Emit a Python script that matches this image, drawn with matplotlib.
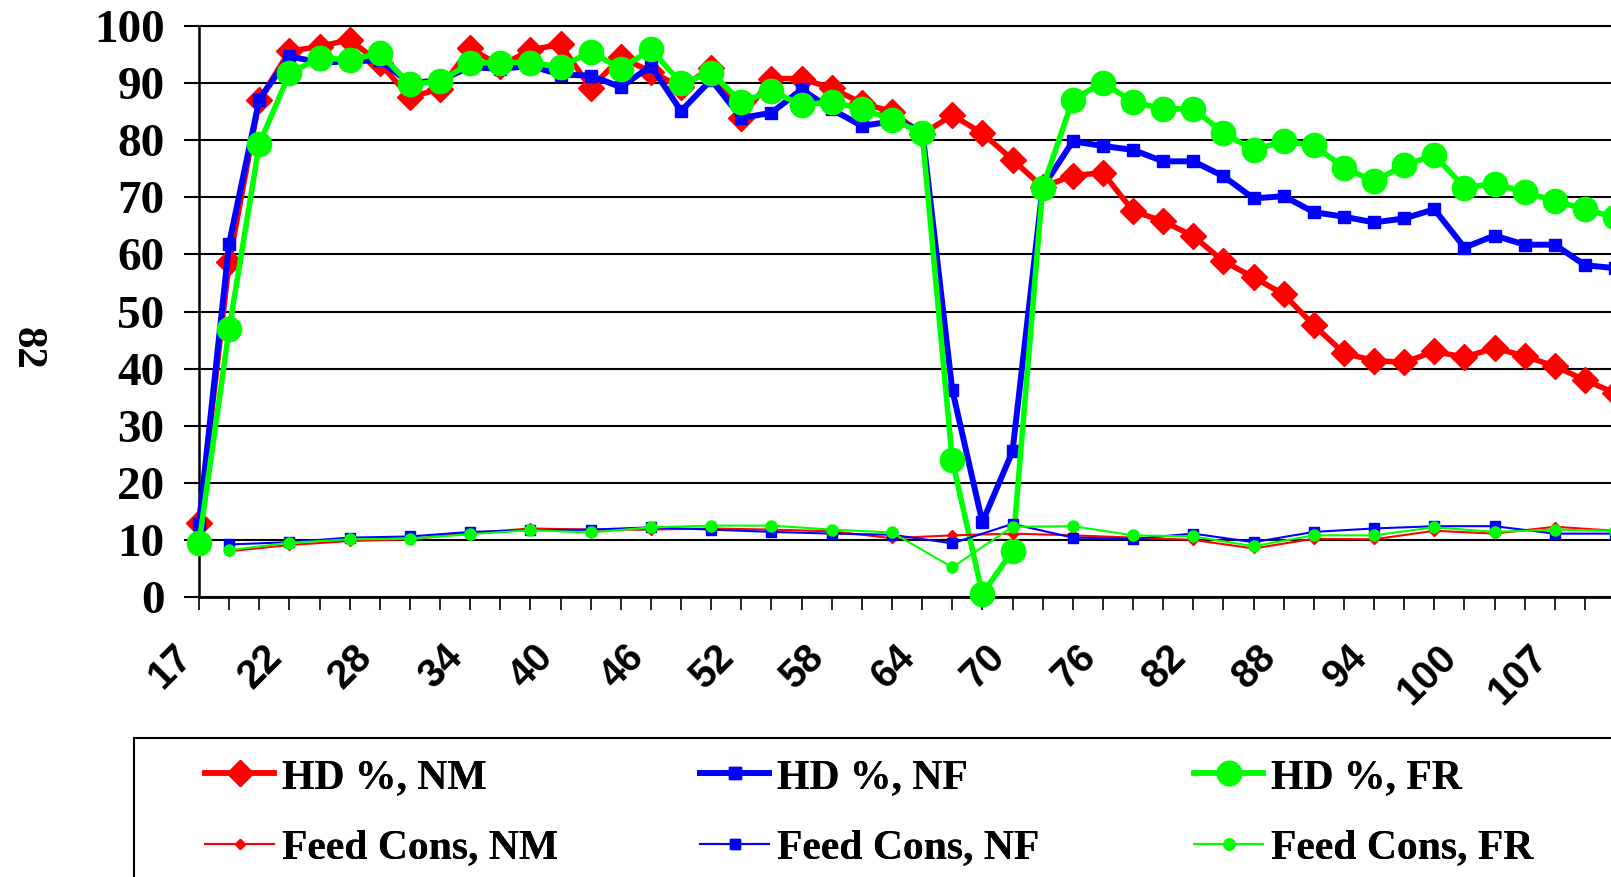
import numpy as np
import matplotlib
matplotlib.use('Agg')
import matplotlib.pyplot as plt
from matplotlib.patches import Rectangle
from matplotlib.transforms import ScaledTranslation

# ---------------- data ----------------
weeks = [17, 19, 20, 22, 24, 26, 28, 30, 32, 34, 36, 38, 40, 42, 44, 46,
         48, 50, 52, 54, 56, 58, 60, 62, 64, 66, 68, 70, 72, 74, 76, 78,
         80, 82, 84, 86, 88, 90, 92, 94, 96, 98, 100, 102, 104, 107, 109, 111]
label_every = 3

hd_nm = [13.0, 58.6, 87.0, 95.6, 96.4, 97.6, 93.5, 87.5, 89.0, 96.1, 93.0, 95.8,
         96.8, 89.1, 94.5, 92.0, 89.3, 92.6, 83.9, 90.8, 90.8, 89.1, 86.5, 85.0,
         81.0, 84.4, 81.2, 76.6, 71.8, 73.8, 74.3, 67.6, 65.8, 63.2, 58.8, 56.0,
         53.0, 47.6, 42.7, 41.4, 41.1, 43.0, 42.0, 43.6, 42.2, 40.4, 38.0, 35.7]
hd_nf = [12.8, 61.9, 87.1, 94.7, 93.6, 93.8, 94.0, 90.0, 90.5, 92.8, 92.5, 93.0,
         91.5, 91.3, 89.3, 93.0, 85.1, 90.6, 83.9, 84.8, 88.9, 85.4, 82.5, 83.3,
         81.9, 36.3, 13.1, 25.5, 71.7, 79.8, 79.0, 78.3, 76.3, 76.3, 73.7, 69.8,
         70.2, 67.4, 66.6, 65.6, 66.3, 67.9, 61.2, 63.3, 61.7, 61.7, 58.1, 57.6]
hd_fr = [9.4, 46.9, 79.3, 91.7, 94.4, 94.1, 95.2, 89.8, 90.3, 93.5, 93.6, 93.6,
         92.8, 95.5, 92.5, 95.9, 90.0, 91.8, 86.7, 88.6, 86.2, 86.7, 85.5, 83.6,
         81.3, 24.0, 0.5, 8.1, 71.7, 87.1, 90.1, 86.7, 85.5, 85.5, 81.3, 78.3,
         79.8, 79.1, 75.2, 72.8, 75.6, 77.4, 71.7, 72.4, 70.9, 69.4, 67.9, 66.5]

# feed consumption measured every second category (weeks[1::2])
feed_nm = [8.0, 9.1, 9.8, 10.1, 11.2, 12.0, 11.8, 11.8, 12.0, 11.8, 11.5, 10.3,
           10.8, 11.1, 10.8, 10.4, 10.0, 8.5, 10.2, 10.1, 11.6, 11.1, 12.3, 11.6]
feed_nf = [9.2, 9.6, 10.4, 10.6, 11.4, 11.7, 11.8, 12.2, 11.8, 11.4, 11.1, 10.9,
           9.4, 12.8, 10.4, 10.2, 11.1, 9.6, 11.4, 12.0, 12.4, 12.4, 11.1, 11.1]
feed_fr = [8.2, 9.5, 10.1, 10.2, 11.0, 11.7, 11.3, 12.2, 12.5, 12.5, 11.8, 11.3,
           5.2, 12.3, 12.4, 10.8, 10.6, 8.9, 10.8, 10.8, 12.2, 11.4, 11.8, 11.6]

hd_labels = ['HD %, NM', 'HD %, NF', 'HD %, FR']
feed_labels = ['Feed Cons, NM', 'Feed Cons, NF', 'Feed Cons, FR']
ylabel_text = '82'

# ---------------- figure ----------------
W, H = 1611, 877
fig = plt.figure(figsize=(W / 100, H / 100), dpi=100)
step = 30.13
n_slots = 48
ax = fig.add_axes([199 / W, 1 - 597 / H, n_slots * step / W, (597 - 26) / H])

x = np.arange(len(weeks))
fx = x[1::2]

RED, BLUE, GREEN = '#FF0000', '#0000FF', '#00FF00'

l1, = ax.plot(x, hd_nm, color=RED, lw=4.0, marker='D', ms=13, mec=RED, mfc=RED,
              clip_on=False, zorder=3)
l2, = ax.plot(x, hd_nf, color=BLUE, lw=4.3, marker='s', ms=8, mec=BLUE, mfc=BLUE,
              clip_on=False, zorder=4)
l3, = ax.plot(x, hd_fr, color=GREEN, lw=4.0, marker='o', ms=17.5, mec=GREEN, mfc=GREEN,
              clip_on=False, zorder=5)
f1, = ax.plot(fx, feed_nm, color=RED, lw=1.5, marker='D', ms=5.5, mec=RED, mfc=RED,
              clip_on=False, zorder=6)
f2, = ax.plot(fx, feed_nf, color=BLUE, lw=1.5, marker='s', ms=7, mec=BLUE, mfc=BLUE,
              clip_on=False, zorder=7)
f3, = ax.plot(fx, feed_fr, color=GREEN, lw=1.5, marker='o', ms=8, mec=GREEN, mfc=GREEN,
              clip_on=False, zorder=8)

ax.set_xlim(0, n_slots)
ax.set_ylim(0, 100)
ax.set_yticks(np.arange(0, 101, 10))
ax.yaxis.grid(True, color='black', lw=1.5)
ax.set_axisbelow(True)

ax.set_xticks(np.arange(0, n_slots + 1))
xt_labels = [str(weeks[i]) if (i < len(weeks) and i % label_every == 0) else ''
             for i in range(n_slots + 1)]
ax.set_xticklabels(xt_labels, rotation=45, ha='right', va='top',
                   fontsize=28.5, fontweight='bold', family='Liberation Sans')
for lab in ax.get_xticklabels():
    lab.set_transform(lab.get_transform() + ScaledTranslation(-12 / 100, 0, fig.dpi_scale_trans))

ax.tick_params(axis='x', direction='out', length=9.4, width=1.2, pad=20, color='black')
ax.tick_params(axis='y', direction='out', length=10.8, width=1.5, pad=14)
for lab in ax.get_yticklabels():
    lab.set_fontsize(34)
    lab.set_fontweight('bold')
    lab.set_family('Liberation Serif')

ax.spines['right'].set_visible(False)
ax.spines['top'].set_linewidth(1.5)
ax.spines['left'].set_linewidth(1.8)
ax.spines['bottom'].set_linewidth(2.0)

ax.set_ylabel(ylabel_text, fontsize=31, fontweight='bold', family='Liberation Serif',
              rotation=-90, va='center', ha='center', rotation_mode='anchor')
ax.yaxis.set_label_coords((27 - 199) / (n_slots * step), (597 - 348) / (597 - 26))

# ---------------- legend ----------------
fig.add_artist(Rectangle((134 / W, -0.2), 1.5, 0.2 + (1 - 738 / H), transform=fig.transFigure,
                         fill=False, ec='black', lw=1.5))
col_x = [205, 700, 1194]
pairs = [(l1, f1), (l2, f2), (l3, f3)]
for cx, (hl, fl), hlab, flab in zip(col_x, pairs, hd_labels, feed_labels):
    leg = fig.legend([hl, fl], [hlab, flab], loc='center left',
                     bbox_to_anchor=(cx / W, 1 - 813 / H), frameon=False,
                     borderpad=0, borderaxespad=0, handlelength=1.66, handletextpad=0.18,
                     labelspacing=0.78,
                     prop={'family': 'Liberation Serif', 'weight': 'bold', 'size': 30})
    fig.add_artist(leg)

fig.savefig('out.png', dpi=100)
